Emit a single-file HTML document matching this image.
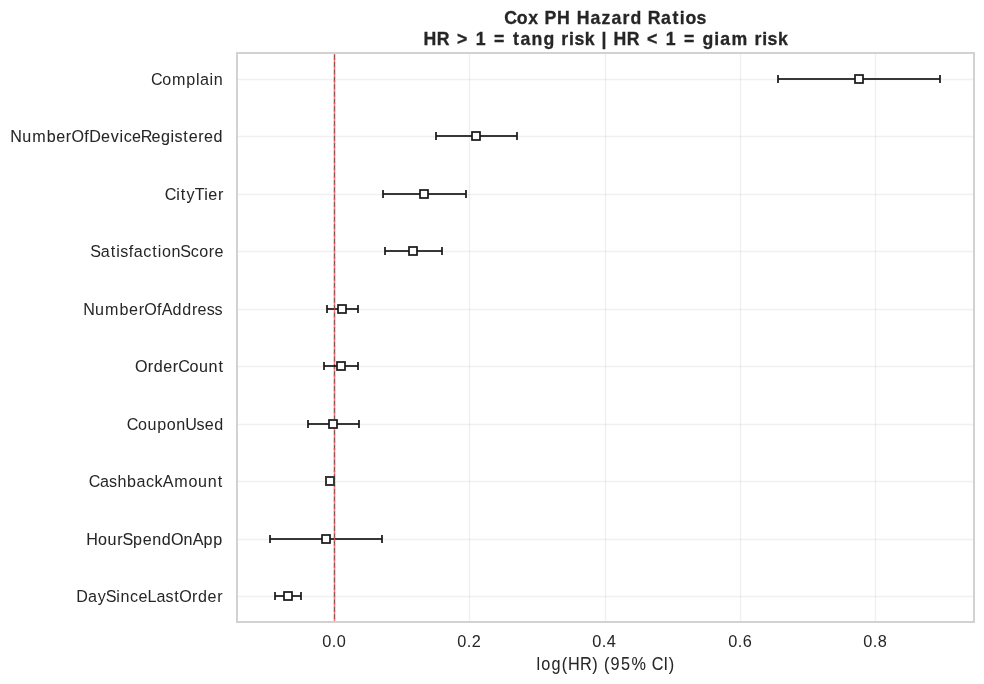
<!DOCTYPE html><html><head><meta charset="utf-8"><title>Cox PH Hazard Ratios</title><style>
html,body{margin:0;padding:0;background:#fff;width:984px;height:684px;overflow:hidden}
svg{display:block;will-change:transform}text{font-family:"Liberation Sans",sans-serif;fill:#262626}
</style></head><body>
<svg width="984" height="684" viewBox="0 0 984 684">
<rect width="984" height="684" fill="#fff"/>
<g stroke="#cccccc" stroke-opacity="0.3" stroke-width="1.389">
<line x1="334.5" y1="54" x2="334.5" y2="621"/>
<line x1="469.5" y1="54" x2="469.5" y2="621"/>
<line x1="605.5" y1="54" x2="605.5" y2="621"/>
<line x1="740.5" y1="54" x2="740.5" y2="621"/>
<line x1="875.5" y1="54" x2="875.5" y2="621"/>
<line x1="238" y1="79.5" x2="973" y2="79.5"/>
<line x1="238" y1="136.5" x2="973" y2="136.5"/>
<line x1="238" y1="194.5" x2="973" y2="194.5"/>
<line x1="238" y1="251.5" x2="973" y2="251.5"/>
<line x1="238" y1="309.5" x2="973" y2="309.5"/>
<line x1="238" y1="366.5" x2="973" y2="366.5"/>
<line x1="238" y1="424.5" x2="973" y2="424.5"/>
<line x1="238" y1="481.5" x2="973" y2="481.5"/>
<line x1="238" y1="539.5" x2="973" y2="539.5"/>
<line x1="238" y1="596.5" x2="973" y2="596.5"/>
</g>
<g fill="#383838">
<rect x="777" y="78" width="164" height="2"/>
<rect x="777" y="75" width="2" height="8"/>
<rect x="939" y="75" width="2" height="8"/>
<rect x="435" y="135" width="83" height="2"/>
<rect x="435" y="132" width="2" height="8"/>
<rect x="516" y="132" width="2" height="8"/>
<rect x="382" y="193" width="85" height="2"/>
<rect x="382" y="190" width="2" height="8"/>
<rect x="465" y="190" width="2" height="8"/>
<rect x="384" y="250" width="59" height="2"/>
<rect x="384" y="247" width="2" height="8"/>
<rect x="441" y="247" width="2" height="8"/>
<rect x="326" y="308" width="33" height="2"/>
<rect x="326" y="305" width="2" height="8"/>
<rect x="357" y="305" width="2" height="8"/>
<rect x="323" y="365" width="36" height="2"/>
<rect x="323" y="362" width="2" height="8"/>
<rect x="357" y="362" width="2" height="8"/>
<rect x="307" y="423" width="53" height="2"/>
<rect x="307" y="420" width="2" height="8"/>
<rect x="358" y="420" width="2" height="8"/>
<rect x="269" y="538" width="114" height="2"/>
<rect x="269" y="535" width="2" height="8"/>
<rect x="381" y="535" width="2" height="8"/>
<rect x="274" y="595" width="28" height="2"/>
<rect x="274" y="592" width="2" height="8"/>
<rect x="300" y="592" width="2" height="8"/>
</g>
<defs><clipPath id="ax"><rect x="236.8" y="53.13" width="737.2" height="569.12"/></clipPath></defs>
<g clip-path="url(#ax)" stroke-width="1.389">
<line x1="334.5" y1="622.25" x2="334.5" y2="53.13" stroke="#000" stroke-opacity="0.610" stroke-dasharray="5.139 2.222" stroke-dashoffset="4.440"/>
<line x1="334.5" y1="622.25" x2="334.5" y2="53.13" stroke="#f05050" stroke-opacity="0.750" stroke-dasharray="5.139 2.222" stroke-dashoffset="0.140"/>
</g>
<g fill="#fff" stroke="#383838" stroke-width="2">
<rect x="855" y="75" width="8" height="8"/>
<rect x="472" y="132" width="8" height="8"/>
<rect x="420" y="190" width="8" height="8"/>
<rect x="409" y="247" width="8" height="8"/>
<rect x="338" y="305" width="8" height="8"/>
<rect x="337" y="362" width="8" height="8"/>
<rect x="329" y="420" width="8" height="8"/>
<rect x="326" y="477" width="8" height="8"/>
<rect x="322" y="535" width="8" height="8"/>
<rect x="284" y="592" width="8" height="8"/>
</g>
<path fill="#1d1d1d" d="M778 78h1v1h-1zM778 79h1v1h-1zM939 78h1v1h-1zM939 79h1v1h-1zM854 78h1v1h-1zM854 79h1v1h-1zM863 78h1v1h-1zM863 79h1v1h-1zM855 75h1v1h-1zM862 75h1v1h-1zM855 82h1v1h-1zM862 82h1v1h-1zM436 135h1v1h-1zM436 136h1v1h-1zM516 135h1v1h-1zM516 136h1v1h-1zM471 135h1v1h-1zM471 136h1v1h-1zM480 135h1v1h-1zM480 136h1v1h-1zM472 132h1v1h-1zM479 132h1v1h-1zM472 139h1v1h-1zM479 139h1v1h-1zM383 193h1v1h-1zM383 194h1v1h-1zM465 193h1v1h-1zM465 194h1v1h-1zM419 193h1v1h-1zM419 194h1v1h-1zM428 193h1v1h-1zM428 194h1v1h-1zM420 190h1v1h-1zM427 190h1v1h-1zM420 197h1v1h-1zM427 197h1v1h-1zM385 250h1v1h-1zM385 251h1v1h-1zM441 250h1v1h-1zM441 251h1v1h-1zM408 250h1v1h-1zM408 251h1v1h-1zM417 250h1v1h-1zM417 251h1v1h-1zM409 247h1v1h-1zM416 247h1v1h-1zM409 254h1v1h-1zM416 254h1v1h-1zM327 308h1v1h-1zM327 309h1v1h-1zM357 308h1v1h-1zM357 309h1v1h-1zM337 308h1v1h-1zM337 309h1v1h-1zM346 308h1v1h-1zM346 309h1v1h-1zM338 305h1v1h-1zM345 305h1v1h-1zM338 312h1v1h-1zM345 312h1v1h-1zM324 365h1v1h-1zM324 366h1v1h-1zM357 365h1v1h-1zM357 366h1v1h-1zM336 365h1v1h-1zM336 366h1v1h-1zM345 365h1v1h-1zM345 366h1v1h-1zM337 362h1v1h-1zM344 362h1v1h-1zM337 369h1v1h-1zM344 369h1v1h-1zM308 423h1v1h-1zM308 424h1v1h-1zM358 423h1v1h-1zM358 424h1v1h-1zM328 423h1v1h-1zM328 424h1v1h-1zM337 423h1v1h-1zM337 424h1v1h-1zM329 420h1v1h-1zM336 420h1v1h-1zM329 427h1v1h-1zM336 427h1v1h-1zM270 538h1v1h-1zM270 539h1v1h-1zM381 538h1v1h-1zM381 539h1v1h-1zM321 538h1v1h-1zM321 539h1v1h-1zM330 538h1v1h-1zM330 539h1v1h-1zM322 535h1v1h-1zM329 535h1v1h-1zM322 542h1v1h-1zM329 542h1v1h-1zM275 595h1v1h-1zM275 596h1v1h-1zM300 595h1v1h-1zM300 596h1v1h-1zM283 595h1v1h-1zM283 596h1v1h-1zM292 595h1v1h-1zM292 596h1v1h-1zM284 592h1v1h-1zM291 592h1v1h-1zM284 599h1v1h-1zM291 599h1v1h-1z"/>
<path fill="#525252" d="M854 74h1v1h-1zM863 74h1v1h-1zM854 83h1v1h-1zM863 83h1v1h-1zM471 131h1v1h-1zM480 131h1v1h-1zM471 140h1v1h-1zM480 140h1v1h-1zM419 189h1v1h-1zM428 189h1v1h-1zM419 198h1v1h-1zM428 198h1v1h-1zM408 246h1v1h-1zM417 246h1v1h-1zM408 255h1v1h-1zM417 255h1v1h-1zM337 304h1v1h-1zM346 304h1v1h-1zM337 313h1v1h-1zM346 313h1v1h-1zM336 361h1v1h-1zM345 361h1v1h-1zM336 370h1v1h-1zM345 370h1v1h-1zM328 419h1v1h-1zM337 419h1v1h-1zM328 428h1v1h-1zM337 428h1v1h-1zM321 534h1v1h-1zM330 534h1v1h-1zM321 543h1v1h-1zM330 543h1v1h-1zM283 591h1v1h-1zM292 591h1v1h-1zM283 600h1v1h-1zM292 600h1v1h-1z"/>
<g fill="#d2d2d2">
<rect x="236" y="52" width="2" height="571"/><rect x="973" y="52" width="2" height="571"/>
<rect x="236" y="52" width="739" height="2"/><rect x="236" y="621" width="739" height="2"/>
</g>
<text transform="scale(1.0300,1)" x="146.53 157.45 166.94 180.93 190.25 194.18 203.33 207.42" y="85.00" font-size="15.65">Complain</text>
<text transform="scale(1.0300,1)" x="10.03 21.56 31.30 45.37 54.63 63.97 69.36 81.71 86.54 98.09 107.47 116.08 120.03 128.22 136.61 147.00 156.26 165.63 169.37 177.87 183.14 192.49 197.98 207.23" y="142.00" font-size="15.65" stroke="#262626" stroke-width="0.05">NumberOfDeviceRegistered</text>
<text transform="scale(1.0300,1)" x="159.93 171.07 175.59 181.14 189.17 198.31 202.31 211.65" y="200.00" font-size="15.65" stroke="#262626" stroke-width="0.05">CityTier</text>
<text transform="scale(1.0300,1)" x="87.70 97.85 107.50 112.92 116.69 124.92 129.92 139.01 147.76 153.18 157.18 166.45 175.02 185.14 193.35 202.70 208.23" y="257.00" font-size="15.65">SatisfactionScore</text>
<text transform="scale(1.0300,1)" x="80.74 92.27 102.00 116.08 125.33 134.68 140.07 152.41 157.04 167.43 176.83 186.31 191.80 200.65 208.37" y="315.00" font-size="15.65">NumberOfAddress</text>
<text transform="scale(1.0300,1)" x="131.18 143.51 149.24 158.47 167.80 172.95 183.92 193.12 202.48 212.23" y="372.00" font-size="15.65" stroke="#262626" stroke-width="0.05">OrderCount</text>
<text transform="scale(1.0300,1)" x="122.99 133.99 143.21 152.60 161.83 171.05 179.86 190.88 198.85 208.10" y="430.00" font-size="15.65">CouponUsed</text>
<text transform="scale(1.0300,1)" x="86.07 97.07 105.91 114.02 123.41 132.64 141.69 150.05 158.09 169.07 182.97 192.19 201.58 211.35" y="487.00" font-size="15.65">CashbackAmount</text>
<text transform="scale(1.0300,1)" x="83.74 95.13 104.36 113.84 118.97 129.23 138.49 147.73 157.12 165.91 178.17 187.06 197.69 207.08" y="545.00" font-size="15.65" stroke="#262626" stroke-width="0.05">HourSpendOnApp</text>
<text transform="scale(1.0300,1)" x="73.97 85.53 94.91 102.70 112.96 117.11 126.33 134.54 143.24 151.92 160.78 169.29 174.13 186.50 192.28 201.55 210.92" y="602.00" font-size="15.65">DaySinceLastOrder</text>
<text transform="scale(1.0200,1)" x="316.04 325.33 330.16" y="647.00" font-size="16.00">0.0</text>
<text transform="scale(1.0200,1)" x="448.25 457.61 462.52" y="647.00" font-size="16.00">0.2</text>
<text transform="scale(1.0200,1)" x="580.53 589.89 594.79" y="647.00" font-size="16.00" stroke="#262626" stroke-width="0.05">0.4</text>
<text transform="scale(1.0200,1)" x="713.99 723.35 728.25" y="647.00" font-size="16.00">0.6</text>
<text transform="scale(1.0200,1)" x="846.26 855.62 860.53" y="647.00" font-size="16.00">0.8</text>
<text transform="scale(0.9290,1)" x="577.57 582.57 593.67 604.74 611.51 624.39 637.45 644.24 650.06 657.25 668.58 679.79 696.42 701.59 714.31 719.92" y="669.60" font-size="17.46" stroke="#262626" stroke-width="0.05">log(HR) (95% CI)</text>
<text transform="scale(0.9880,1)" x="510.26 523.15 534.79 545.59 551.16 563.81 577.70 583.65 597.79 608.81 618.83 630.10 638.24 650.13 655.51 669.09 680.74 688.11 693.75 704.97" y="24.20" font-size="17.90" font-weight="bold" stroke="#262626" stroke-width="0.30">Cox PH Hazard Ratios</text>
<text transform="scale(0.9880,1)" x="428.58 442.06 455.42 462.64 475.33 481.60 492.85 500.07 512.76 519.20 526.88 538.03 550.01 561.92 567.98 576.00 581.38 591.95 602.95 608.92 614.92 620.89 634.38 647.74 654.95 667.65 673.92 685.17 692.38 705.08 711.02 722.89 728.94 740.37 757.50 763.57 771.58 776.96 787.54" y="44.90" font-size="17.90" font-weight="bold" stroke="#262626" stroke-width="0.30">HR &gt; 1 = tang risk | HR &lt; 1 = giam risk</text>
</svg></body></html>
